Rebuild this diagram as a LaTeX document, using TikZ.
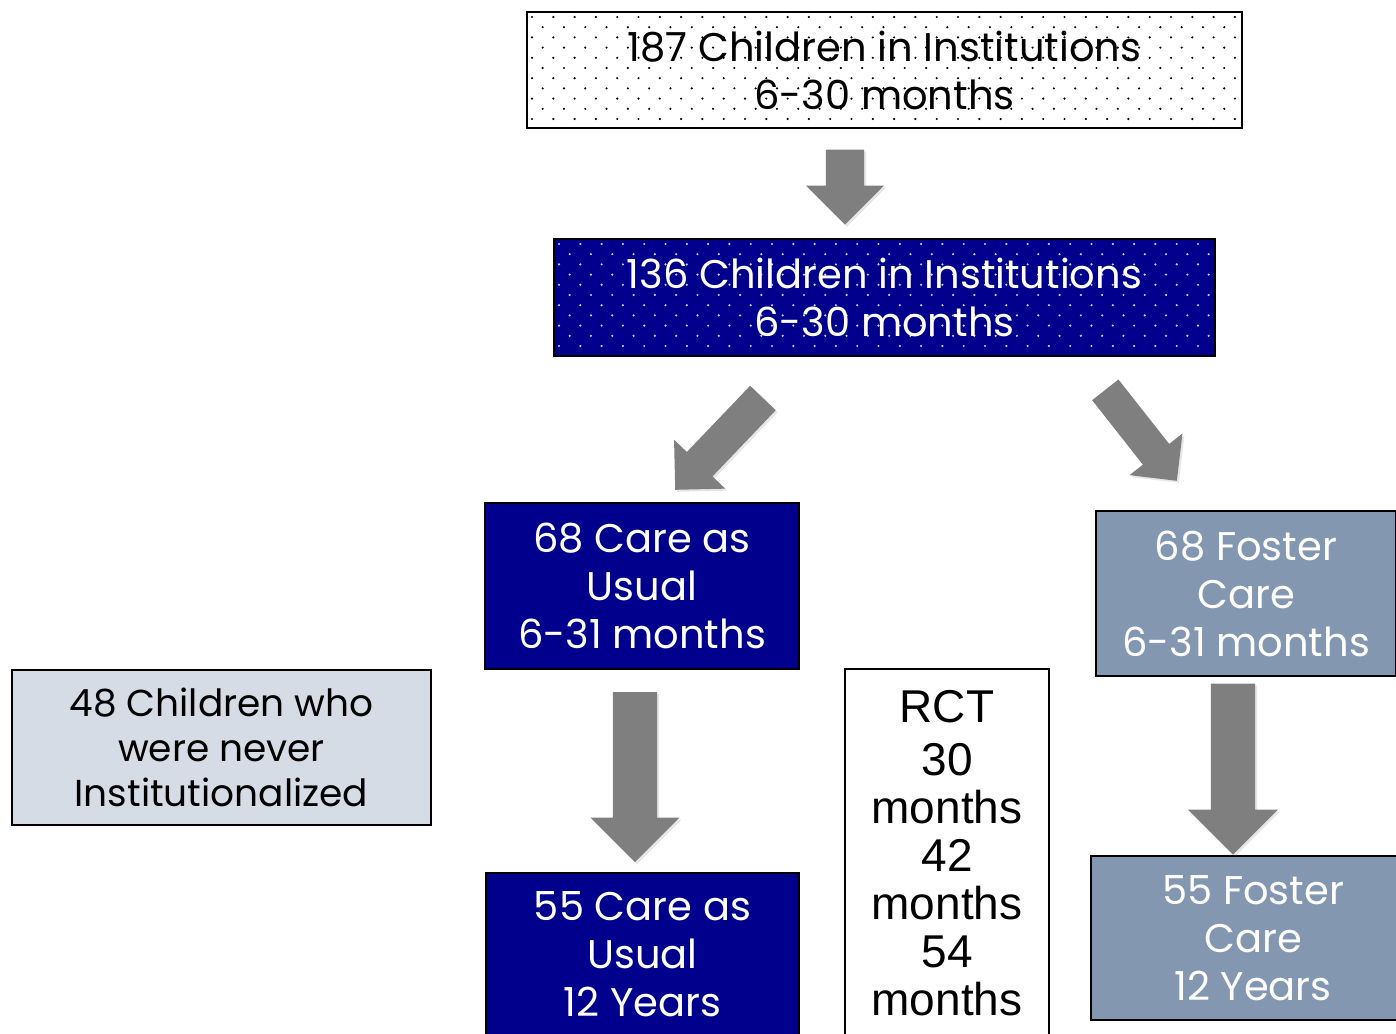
\documentclass[tikz,border=0pt]{standalone}
\usepackage{fontspec}
\setmainfont{Poppins}
\newfontfamily\rctfont{Liberation Sans}
\usetikzlibrary{shapes.arrows, shadows}

\definecolor{navyfill}{RGB}{0,0,140}
\definecolor{slatefill}{RGB}{132,151,176}
\definecolor{palefill}{RGB}{214,220,229}
\definecolor{arrowgrey}{RGB}{127,127,127}

\begin{document}
\begin{tikzpicture}[x=1pt, y=-1pt,
    stage/.style={
        rectangle, draw=black, line width=2pt, align=center, inner sep=0pt,
        font=\fontsize{40}{48}\selectfont
    },
    navybox/.style={stage, fill=navyfill, text=white},
    slatebox/.style={stage, fill=slatefill, text=white},
    dotfill/.style={
        path picture={
            \foreach \r in {0,...,11}
                \foreach \c in {0,...,34}
                    \fill[#1] ([shift={({5+\c*21.3+10.65*mod(\r,2)},{5+\r*10.2})}]path picture bounding box.north west) circle (1.2);
        }
    },
    blockarrow/.style={
        single arrow, fill=arrowgrey, draw=none, inner xsep=0pt, anchor=tip,
        single arrow tip angle=90,
        drop shadow={opacity=0.2, shadow xshift=2pt, shadow yshift=-2pt}
    },
]
\useasboundingbox (0,0) rectangle (1396,1033);

% screened and enrolled children (top)
\node[stage, fill=white, dotfill=black, minimum width=715, minimum height=116] (screened) at (884.5,70)
    {187 Children in Institutions\\6-30 months};
\node[navybox, dotfill=white!80!blue, minimum width=661, minimum height=117] (enrolled) at (884.5,297.5)
    {136 Children in Institutions\\6-30 months};

% randomised groups (middle)
\node[navybox, minimum width=314, minimum height=166] (cau) at (642,586) {68 Care as\\Usual\\6-31 months};
\node[slatebox, minimum width=300, minimum height=165] (fc) at (1246,593.5) {68 Foster\\Care\\6-31 months};

% community comparison group (left)
\node[stage, fill=palefill, minimum width=419, minimum height=155, font=\fontsize{37.5}{45}\selectfont] (never) at (221.5,747.5)
    {48 Children who\\were never\\Institutionalized};

% assessment waves
\node[stage, fill=white, minimum width=204, minimum height=368, anchor=north, font=\rctfont\fontsize{46}{48}\selectfont] (rct) at (947,668)
    {RCT\\[5pt]30\\months\\42\\months\\54\\months};

% follow-up at 12 years (bottom)
\node[navybox, minimum width=313, minimum height=162, anchor=north] (cau12) at (642.5,872) {55 Care as\\Usual\\12 Years};
\node[slatebox, minimum width=324, minimum height=164, anchor=west] (fc12) at (1090,938) {55 Foster\\Care\\12 Years};

% block arrows
\node[blockarrow, rotate=-90, minimum height=75, inner ysep=19, single arrow head extend=20] (toenrolled) at (845,225) {};
\node[blockarrow, rotate=-133.7, minimum height=127, inner ysep=17.5, single arrow head extend=17.7] (tocau) at (675,490) {};
\node[blockarrow, rotate=-51.8, minimum height=115.7, inner ysep=16.5, single arrow head extend=17] (tofc) at (1177,481) {};
\node[blockarrow, rotate=-90, minimum height=170, inner ysep=22, single arrow head extend=22.5] (tocau12) at (635,862.5) {};
\node[blockarrow, rotate=-90, minimum height=171, inner ysep=22, single arrow head extend=23] (tofc12) at (1233,855) {};

\end{tikzpicture}
\end{document}
